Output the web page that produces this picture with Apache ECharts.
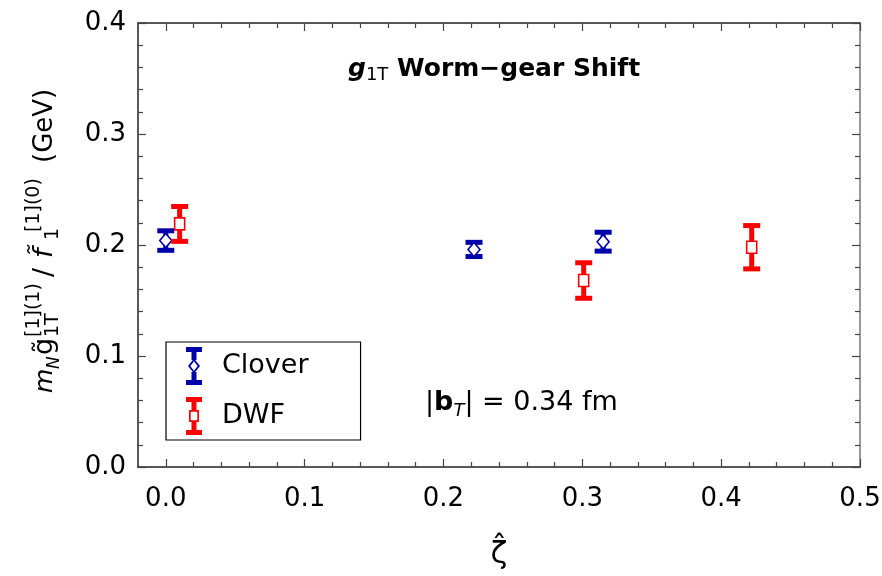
<!DOCTYPE html>
<html>
<head>
<meta charset="utf-8">
<script src="https://cdn.jsdelivr.net/npm/echarts@6/dist/echarts.min.js"></script>
<style>
  html, body { margin: 0; padding: 0; background: #fff; }
  #chart { width: 882px; height: 576px; }
</style>
</head>
<body>
<div id="chart"></div>
<script>
// Worm-gear shift ratio versus zeta-hat for two lattice actions
const cloverZeta = [0.000, 0.222, 0.315];
const cloverVal  = [0.204, 0.196, 0.203];
const cloverErr  = [0.0088, 0.0064, 0.0085];

const dwfZeta = [0.010, 0.301, 0.422];
const dwfVal  = [0.219, 0.168, 0.198];
const dwfErr  = [0.0157, 0.0160, 0.0195];

const xMajorTicks = [0.0, 0.1, 0.2, 0.3, 0.4, 0.5];
const xMinorTicks = [0.02, 0.04, 0.06, 0.08, 0.12, 0.14, 0.16, 0.18, 0.22, 0.24, 0.26, 0.28,
                     0.32, 0.34, 0.36, 0.38, 0.42, 0.44, 0.46, 0.48];
const yTicks = [0.0, 0.1, 0.2, 0.3, 0.4];

const BLUE = '#0000aa';
const RED = '#ff0000';
const FONT = 'DejaVu Sans';

const chart = echarts.init(document.getElementById('chart'), null, { renderer: 'canvas' });

// error bar with end caps and a hollow marker at the central value
function errorBarItem(shape, color) {
  return function (params, api) {
    const x = api.value(0), y = api.value(1), e = api.value(2);
    const c = api.coord([x, y]);
    const top = api.coord([x, y + e]);
    const bot = api.coord([x, y - e]);
    const capW = 17, capH = 5, barW = 5;
    const children = [
      { type: 'rect', shape: { x: c[0] - barW / 2, y: top[1], width: barW, height: bot[1] - top[1] }, style: { fill: color } },
      { type: 'rect', shape: { x: c[0] - capW / 2, y: top[1] - capH / 2, width: capW, height: capH }, style: { fill: color } },
      { type: 'rect', shape: { x: c[0] - capW / 2, y: bot[1] - capH / 2, width: capW, height: capH }, style: { fill: color } }
    ];
    if (shape === 'diamond') {
      children.push({ type: 'polygon', shape: { points: [[c[0], c[1] - 7], [c[0] + 6, c[1]], [c[0], c[1] + 7], [c[0] - 6, c[1]]] },
        style: { fill: '#fff', stroke: color, lineWidth: 1.6 } });
    } else {
      children.push({ type: 'rect', shape: { x: c[0] - 5, y: c[1] - 6, width: 10, height: 12 },
        style: { fill: '#fff', stroke: color, lineWidth: 1.6 } });
    }
    return { type: 'group', children: children };
  };
}

const cloverData = cloverZeta.map((z, i) => [z, cloverVal[i], cloverErr[i]]);
const dwfData = dwfZeta.map((z, i) => [z, dwfVal[i], dwfErr[i]]);

const cloverIcon = 'path://M0,0L16,0L16,5L0,5Z M0,33L16,33L16,38L0,38Z M5.5,5L10.5,5L10.5,13L5.5,13Z M5.5,25L10.5,25L10.5,33L5.5,33Z ' +
  'M8,11.5L14,19L8,26.5L2,19Z M8,14.3L4.3,19L8,23.7L11.7,19Z';
const dwfIcon = 'path://M0,0L16,0L16,5L0,5Z M0,33L16,33L16,38L0,38Z M5.5,5L10.5,5L10.5,14L5.5,14Z M5.5,24L10.5,24L10.5,33L5.5,33Z ' +
  'M3,13L13,13L13,25L3,25Z M4.7,14.7L4.7,23.3L11.3,23.3L11.3,14.7Z';

const axisLineStyle = { color: '#222', width: 1.5 };
const tickStyle = { color: '#444', width: 1.2 };

const xCommon = { type: 'value', min: -0.02, max: 0.5, splitLine: { show: false } };

const option = {
  animation: false,
  backgroundColor: '#fff',
  grid: { left: 138, right: 22, top: 23, bottom: 109, containLabel: false, outerBoundsMode: 'none' },
  title: {
    left: 348, top: 54, padding: 0,
    text: '{g|g}{s|1T}{b| Worm\u2212gear Shift}',
    textStyle: {
      rich: {
        g: { fontFamily: FONT, fontSize: 25, fontWeight: 'bold', fontStyle: 'italic', color: '#000', lineHeight: 30 },
        s: { fontFamily: FONT, fontSize: 18, fontWeight: 'normal', color: '#000', lineHeight: 18, verticalAlign: 'bottom' },
        b: { fontFamily: FONT, fontSize: 25, fontWeight: 'bold', color: '#000', lineHeight: 30 }
      }
    }
  },
  legend: {
    orient: 'vertical', left: 166, top: 342,
    borderColor: '#000', borderWidth: 1.2, borderRadius: 0,
    padding: [5, 52, 5, 20],
    itemWidth: 16, itemHeight: 38, itemGap: 12,
    selectedMode: false,
    textStyle: { fontFamily: FONT, fontSize: 27, color: '#000', padding: [0, 0, 0, 15] },
    data: [{ name: 'Clover', icon: cloverIcon }, { name: 'DWF', icon: dwfIcon }]
  },
  xAxis: [
    Object.assign({}, xCommon, {
      position: 'bottom',
      axisLine: { show: true, onZero: false, lineStyle: axisLineStyle },
      axisTick: { show: true, inside: true, length: 8, lineStyle: tickStyle, customValues: xMajorTicks },
      axisLabel: { show: true, customValues: xMajorTicks, margin: 19, color: '#000', fontFamily: FONT, fontSize: 26,
        formatter: v => v.toFixed(1) },
      name: '\u03B6\u0302', nameLocation: 'middle', nameGap: 72,
      nameTextStyle: { fontFamily: FONT, fontSize: 31, color: '#000' }
    }),
    Object.assign({}, xCommon, {
      position: 'bottom',
      axisLine: { show: false, onZero: false },
      axisTick: { show: true, inside: true, length: 5, lineStyle: tickStyle, customValues: xMinorTicks },
      axisLabel: { show: false }
    }),
    Object.assign({}, xCommon, {
      position: 'top',
      axisLine: { show: true, onZero: false, lineStyle: axisLineStyle },
      axisTick: { show: true, inside: true, length: 8, lineStyle: tickStyle, customValues: xMajorTicks },
      axisLabel: { show: false }
    }),
    Object.assign({}, xCommon, {
      position: 'top',
      axisLine: { show: false, onZero: false },
      axisTick: { show: true, inside: true, length: 5, lineStyle: tickStyle, customValues: xMinorTicks },
      axisLabel: { show: false }
    })
  ],
  yAxis: [
    {
      type: 'value', min: 0, max: 0.4, interval: 0.1, position: 'left',
      splitLine: { show: false },
      axisLine: { show: true, onZero: false, lineStyle: axisLineStyle },
      axisTick: { show: true, inside: true, length: 8, lineStyle: tickStyle },
      minorTick: { show: true, splitNumber: 5, length: 5, lineStyle: tickStyle },
      axisLabel: { show: true, margin: 12, color: '#000', fontFamily: FONT, fontSize: 26,
        formatter: v => v.toFixed(1), customValues: yTicks }
    },
    {
      type: 'value', min: 0, max: 0.4, interval: 0.1, position: 'right',
      splitLine: { show: false },
      axisLine: { show: true, onZero: false, lineStyle: { color: '#777', width: 1.5 } },
      axisTick: { show: true, inside: true, length: 8, lineStyle: tickStyle },
      minorTick: { show: true, splitNumber: 5, length: 5, lineStyle: tickStyle },
      axisLabel: { show: false }
    }
  ],
  graphic: [
    {
      // rotated y-axis title: m_N g~_{1T}^{[1](1)} / f~_1^{[1](0)} (GeV)
      type: 'group', x: 53, y: 393, rotation: Math.PI / 2,
      children: [
        { type: 'text', x: 0, y: 5, style: { text: 'm', font: 'italic 25px "DejaVu Sans"', fill: '#000', verticalAlign: 'bottom' } },
        { type: 'text', x: 24, y: 10, style: { text: 'N', font: 'italic 17px "DejaVu Sans"', fill: '#000', verticalAlign: 'bottom' } },
        { type: 'text', x: 38, y: 5, style: { text: 'g\u0303', font: '27px "DejaVu Sans"', fill: '#000', verticalAlign: 'bottom' } },
        { type: 'text', x: 56, y: 10, style: { text: '1T', font: '19px "DejaVu Sans"', fill: '#000', verticalAlign: 'bottom' } },
        { type: 'text', x: 56, y: -9, style: { text: '[1](1)', font: '19px "DejaVu Sans"', fill: '#000', verticalAlign: 'bottom' } },
        { type: 'text', x: 116, y: 5, style: { text: '/', font: '27px "DejaVu Sans"', fill: '#000', verticalAlign: 'bottom' } },
        { type: 'text', x: 135, y: 5, style: { text: 'f\u0303', font: 'italic 27px "DejaVu Sans"', fill: '#000', verticalAlign: 'bottom' } },
        { type: 'text', x: 153, y: 10, style: { text: '1', font: '19px "DejaVu Sans"', fill: '#000', verticalAlign: 'bottom' } },
        { type: 'text', x: 161, y: -9, style: { text: '[1](0)', font: '19px "DejaVu Sans"', fill: '#000', verticalAlign: 'bottom' } },
        { type: 'text', x: 230, y: 5, style: { text: '(GeV)', font: '26px "DejaVu Sans"', fill: '#000', verticalAlign: 'bottom' } }
      ]
    },
    {
      type: 'text', x: 425, y: 386,
      style: {
        text: '{n||}{b|b}{t|T}{n|| = 0.34 fm}',
        fill: '#000',
        rich: {
          n: { fontFamily: FONT, fontSize: 27, color: '#000', lineHeight: 34 },
          b: { fontFamily: FONT, fontSize: 27, fontWeight: 'bold', color: '#000', lineHeight: 34 },
          t: { fontFamily: FONT, fontSize: 18, fontStyle: 'italic', color: '#000', lineHeight: 18, verticalAlign: 'bottom' }
        }
      }
    }
  ],
  series: [
    {
      name: 'Clover', type: 'custom', xAxisIndex: 0, yAxisIndex: 0,
      itemStyle: { color: BLUE },
      renderItem: errorBarItem('diamond', BLUE),
      encode: { x: 0, y: 1 },
      data: cloverData, z: 3
    },
    {
      name: 'DWF', type: 'custom', xAxisIndex: 0, yAxisIndex: 0,
      itemStyle: { color: RED },
      renderItem: errorBarItem('square', RED),
      encode: { x: 0, y: 1 },
      data: dwfData, z: 3
    }
  ]
};

chart.setOption(option);
</script>
</body>
</html>
